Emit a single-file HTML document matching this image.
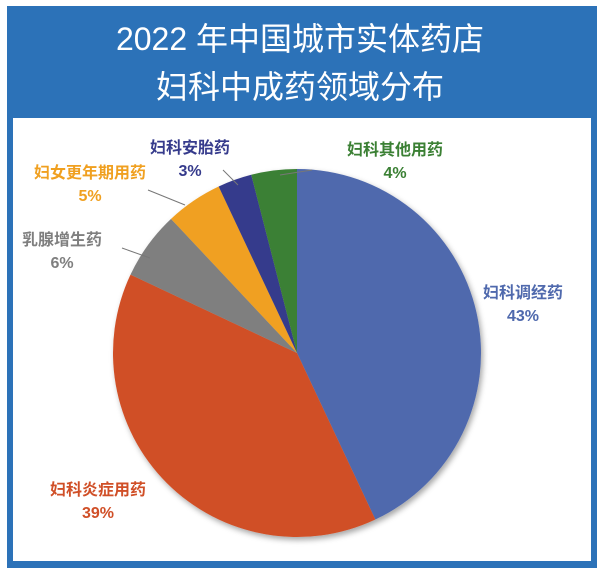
<!DOCTYPE html>
<html><head><meta charset="utf-8">
<style>
body{margin:0;background:#fff;}
#wrap{position:relative;width:600px;height:576px;overflow:hidden;background:#fff;font-family:"Liberation Sans","Noto Sans CJK SC",sans-serif;}
</style></head>
<body>
<div id="wrap">
<svg width="600" height="576">
<defs>
<filter id="sh" x="-20%" y="-20%" width="140%" height="140%"><feDropShadow dx="2" dy="3" stdDeviation="3" flood-color="#000" flood-opacity="0.35"/></filter>
</defs>
<rect x="7" y="6" width="590" height="562" fill="#2c72b8"/>
<rect x="13" y="118" width="578" height="443" fill="#fff"/>
<text x="300" y="50" text-anchor="middle" fill="#fff" font-size="32">2022 年中国城市实体药店</text>
<text x="300" y="98" text-anchor="middle" fill="#fff" font-size="32">妇科中成药领域分布</text>
<g id="pie" filter="url(#sh)"></g>
<g id="labels"></g>
</svg>
</div>
<script>
const categories=["妇科调经药","妇科炎症用药","乳腺增生药","妇女更年期用药","妇科安胎药","妇科其他用药"];
const values=[43,39,6,5,3,4];
const pctLabels=["43%","39%","6%","5%","3%","4%"];
const colors=["#4f69ad","#d04f27","#7f7f7f","#f0a020","#363b8c","#3b8034"];
const labelPos=[[523,298],[98,495],[62,245],[90,178],[190,153],[395,155]];
const leaders=[null,null,[[122,248],[150,258]],[[148,190],[185,205]],[[223,170],[238,185]],[[312,170],[280,175]]];
const cx=297,cy=353,r=184;
const NS="http://www.w3.org/2000/svg";
const pie=document.getElementById('pie'),lab=document.getElementById('labels');
const total=values.reduce((a,b)=>a+b,0);
function pt(a,rr){return [cx+rr*Math.sin(a),cy-rr*Math.cos(a)];}
let a0=0;
values.forEach((v,i)=>{
  const a1=a0+v/total*2*Math.PI;
  const p0=pt(a0,r),p1=pt(a1,r);
  const large=(a1-a0)>Math.PI?1:0;
  const p=document.createElementNS(NS,'path');
  p.setAttribute('d',`M${cx},${cy} L${p0[0]},${p0[1]} A${r},${r} 0 ${large} 1 ${p1[0]},${p1[1]} Z`);
  p.setAttribute('fill',colors[i]);
  
  
  pie.appendChild(p);
  a0=a1;
  if(leaders[i]){
    const l=document.createElementNS(NS,'line');
    l.setAttribute('x1',leaders[i][0][0]);l.setAttribute('y1',leaders[i][0][1]);
    l.setAttribute('x2',leaders[i][1][0]);l.setAttribute('y2',leaders[i][1][1]);
    l.setAttribute('stroke','#777');l.setAttribute('stroke-width','1');
    
    
    lab.appendChild(l);
  }
  const t=document.createElementNS(NS,'text');
  t.setAttribute('x',labelPos[i][0]);t.setAttribute('y',labelPos[i][1]);
  t.setAttribute('text-anchor','middle');t.setAttribute('fill',colors[i]);
  t.setAttribute('font-size','16');t.setAttribute('font-weight','bold');
  
  
  t.textContent=categories[i];
  lab.appendChild(t);
  const t2=document.createElementNS(NS,'text');
  t2.setAttribute('x',labelPos[i][0]);t2.setAttribute('y',labelPos[i][1]+23);
  t2.setAttribute('text-anchor','middle');t2.setAttribute('fill',colors[i]);
  t2.setAttribute('font-size','16');t2.setAttribute('font-weight','bold');
  
  
  t2.textContent=pctLabels[i];
  lab.appendChild(t2);
});
</script>
</body></html>
